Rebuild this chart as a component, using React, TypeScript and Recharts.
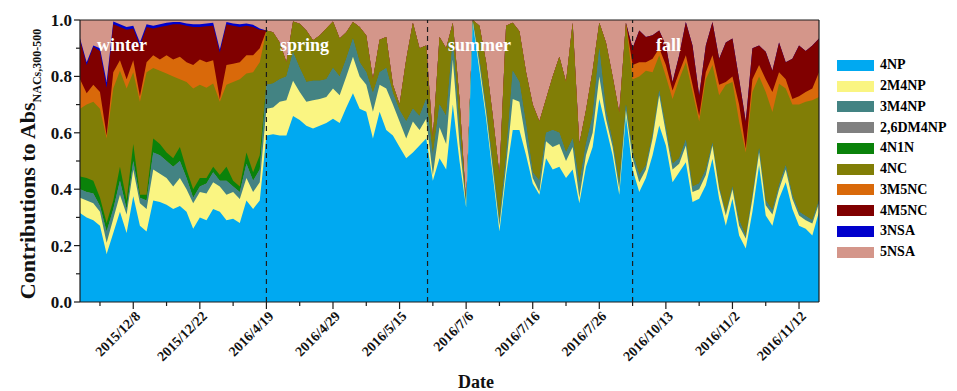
import { Area, AreaChart, ReferenceLine, XAxis, YAxis } from 'recharts'

// Upper edge of each band (cumulative contribution), one value per sample.
// Samples are numbered 2..113 along the x axis: winter 2-29, spring 30-54, summer 55-84, fall 85-113.
const top4NP = [
  0.316, 0.3, 0.29, 0.27, 0.17, 0.245, 0.32, 0.245, 0.375, 0.27, 0.25, 0.36, 0.355, 0.345, 0.33, 0.34, 0.32, 0.26, 0.3, 0.29, 0.33, 0.32, 0.29, 0.295, 0.28, 0.36, 0.33, 0.36,
  0.59, 0.595, 0.59, 0.59, 0.66, 0.645, 0.625, 0.615, 0.625, 0.635, 0.65, 0.635, 0.69, 0.74, 0.685, 0.675, 0.58, 0.675, 0.61, 0.59, 0.55, 0.51, 0.53, 0.555, 0.58,
  0.43, 0.51, 0.47, 0.7, 0.5, 0.335, 0.99, 0.82, 0.65, 0.45, 0.25, 0.45, 0.61, 0.61, 0.52, 0.42, 0.38, 0.51, 0.47, 0.48, 0.44, 0.47, 0.35, 0.48, 0.55, 0.72, 0.62, 0.52, 0.38, 0.66,
  0.47, 0.39, 0.44, 0.52, 0.626, 0.555, 0.425, 0.46, 0.496, 0.355, 0.366, 0.414, 0.508, 0.366, 0.27, 0.366, 0.236, 0.19, 0.32, 0.485, 0.307, 0.27, 0.366, 0.425, 0.33, 0.27, 0.26, 0.236, 0.32,
]
const top2M4NP = [
  0.37, 0.36, 0.35, 0.32, 0.21, 0.295, 0.38, 0.31, 0.47, 0.35, 0.33, 0.47, 0.455, 0.44, 0.41, 0.44, 0.4, 0.35, 0.39, 0.385, 0.425, 0.41, 0.38, 0.39, 0.365, 0.44, 0.39, 0.425,
  0.685, 0.69, 0.71, 0.715, 0.785, 0.745, 0.71, 0.715, 0.72, 0.727, 0.757, 0.733, 0.8, 0.87, 0.8, 0.77, 0.675, 0.77, 0.757, 0.7, 0.64, 0.58, 0.64, 0.61, 0.65,
  0.45, 0.62, 0.56, 0.86, 0.56, 0.34, 0.995, 0.84, 0.67, 0.47, 0.27, 0.48, 0.72, 0.71, 0.57, 0.44, 0.39, 0.57, 0.55, 0.56, 0.5, 0.55, 0.37, 0.52, 0.6, 0.8, 0.65, 0.55, 0.4, 0.68,
  0.51, 0.425, 0.47, 0.58, 0.733, 0.6, 0.47, 0.49, 0.555, 0.39, 0.4, 0.45, 0.555, 0.4, 0.307, 0.4, 0.27, 0.225, 0.366, 0.53, 0.343, 0.31, 0.4, 0.47, 0.366, 0.307, 0.29, 0.278, 0.35,
]
const top3M4NP = [
  0.4, 0.39, 0.385, 0.34, 0.25, 0.33, 0.43, 0.33, 0.5, 0.37, 0.36, 0.53, 0.52, 0.5, 0.48, 0.5, 0.44, 0.37, 0.41, 0.42, 0.46, 0.43, 0.43, 0.41, 0.39, 0.49, 0.43, 0.47,
  0.77, 0.775, 0.79, 0.8, 0.886, 0.83, 0.78, 0.785, 0.785, 0.79, 0.83, 0.8, 0.863, 0.934, 0.85, 0.815, 0.74, 0.815, 0.83, 0.74, 0.68, 0.64, 0.685, 0.66, 0.72,
  0.52, 0.7, 0.66, 0.93, 0.62, 0.34, 0.997, 0.86, 0.69, 0.49, 0.29, 0.52, 0.82, 0.78, 0.63, 0.46, 0.43, 0.6, 0.61, 0.6, 0.53, 0.58, 0.42, 0.56, 0.66, 0.9, 0.68, 0.57, 0.42, 0.7,
  0.53, 0.45, 0.485, 0.595, 0.75, 0.62, 0.49, 0.51, 0.575, 0.41, 0.42, 0.47, 0.565, 0.41, 0.317, 0.41, 0.29, 0.235, 0.38, 0.545, 0.36, 0.325, 0.415, 0.485, 0.38, 0.32, 0.305, 0.29, 0.36,
]
// 2,6DM4NP is too thin to be seen anywhere
const top26DM4NP = top3M4NP
const top4N1N = [
  0.445, 0.44, 0.43, 0.37, 0.28, 0.36, 0.48, 0.36, 0.56, 0.38, 0.38, 0.58, 0.56, 0.53, 0.51, 0.55, 0.47, 0.4, 0.44, 0.44, 0.48, 0.45, 0.48, 0.43, 0.41, 0.53, 0.46, 0.52,
  0.77, 0.775, 0.79, 0.8, 0.886, 0.83, 0.78, 0.785, 0.785, 0.79, 0.83, 0.8, 0.863, 0.934, 0.85, 0.815, 0.74, 0.815, 0.83, 0.74, 0.68, 0.64, 0.685, 0.66, 0.72,
  0.52, 0.7, 0.66, 0.93, 0.62, 0.34, 0.997, 0.86, 0.69, 0.49, 0.29, 0.52, 0.82, 0.78, 0.63, 0.46, 0.43, 0.6, 0.61, 0.6, 0.53, 0.58, 0.42, 0.56, 0.66, 0.9, 0.68, 0.57, 0.42, 0.7,
  0.53, 0.45, 0.485, 0.595, 0.75, 0.62, 0.49, 0.51, 0.575, 0.41, 0.42, 0.47, 0.565, 0.41, 0.317, 0.41, 0.29, 0.235, 0.38, 0.545, 0.36, 0.325, 0.415, 0.485, 0.38, 0.32, 0.305, 0.29, 0.36,
]
const top4NC = [
  0.685, 0.7, 0.71, 0.685, 0.58, 0.757, 0.82, 0.757, 0.815, 0.71, 0.815, 0.83, 0.82, 0.81, 0.8, 0.79, 0.78, 0.757, 0.77, 0.76, 0.775, 0.71, 0.77, 0.78, 0.79, 0.81, 0.815, 0.85,
  0.963, 0.957, 0.92, 0.85, 0.995, 0.987, 0.963, 0.928, 0.945, 0.97, 0.995, 0.934, 0.957, 0.993, 0.975, 0.945, 0.79, 0.93, 0.94, 0.77, 0.7, 0.86, 0.99, 0.9, 0.91,
  0.58, 0.94, 0.9, 0.99, 0.72, 0.345, 1, 0.98, 0.85, 0.66, 0.45, 0.98, 0.99, 0.96, 0.815, 0.7, 0.64, 0.72, 0.8, 0.87, 0.78, 0.99, 0.56, 0.68, 0.82, 0.99, 0.92, 0.8, 0.67, 0.99,
  0.79, 0.8, 0.82, 0.815, 0.875, 0.8, 0.72, 0.79, 0.85, 0.745, 0.64, 0.79, 0.84, 0.733, 0.77, 0.78, 0.64, 0.53, 0.745, 0.8, 0.745, 0.674, 0.774, 0.757, 0.7, 0.7, 0.71, 0.715, 0.727,
]
const top3M5NC = [
  0.79, 0.74, 0.77, 0.745, 0.59, 0.815, 0.857, 0.79, 0.857, 0.73, 0.85, 0.875, 0.86, 0.875, 0.86, 0.87, 0.85, 0.84, 0.86, 0.85, 0.857, 0.72, 0.84, 0.845, 0.85, 0.875, 0.875, 0.9,
  0.963, 0.957, 0.92, 0.85, 0.995, 0.987, 0.963, 0.928, 0.945, 0.97, 0.995, 0.934, 0.957, 0.993, 0.975, 0.945, 0.79, 0.93, 0.94, 0.77, 0.7, 0.86, 0.99, 0.9, 0.91,
  0.58, 0.94, 0.9, 0.99, 0.72, 0.345, 1, 0.98, 0.85, 0.66, 0.45, 0.98, 0.99, 0.96, 0.815, 0.7, 0.64, 0.72, 0.8, 0.87, 0.78, 0.99, 0.56, 0.68, 0.82, 0.99, 0.92, 0.8, 0.67, 0.99,
  0.84, 0.85, 0.85, 0.863, 0.9, 0.84, 0.75, 0.815, 0.875, 0.77, 0.66, 0.815, 0.875, 0.77, 0.78, 0.8, 0.7, 0.544, 0.79, 0.84, 0.79, 0.745, 0.815, 0.79, 0.72, 0.73, 0.745, 0.757, 0.815,
]
const top4M5NC = [
  0.93, 0.84, 0.905, 0.89, 0.76, 0.985, 0.975, 0.965, 0.97, 0.91, 0.975, 0.97, 0.975, 0.98, 0.985, 0.985, 0.98, 0.975, 0.975, 0.978, 0.98, 0.885, 0.985, 0.98, 0.975, 0.98, 0.975, 0.965,
  0.963, 0.957, 0.92, 0.85, 0.995, 0.987, 0.963, 0.928, 0.945, 0.97, 0.995, 0.934, 0.957, 0.993, 0.975, 0.945, 0.79, 0.93, 0.94, 0.77, 0.7, 0.86, 0.99, 0.9, 0.91,
  0.58, 0.94, 0.9, 0.99, 0.72, 0.345, 1, 0.98, 0.85, 0.66, 0.45, 0.98, 0.99, 0.96, 0.815, 0.7, 0.64, 0.72, 0.8, 0.87, 0.78, 0.99, 0.56, 0.68, 0.82, 0.99, 0.92, 0.8, 0.67, 0.99,
  0.9, 0.963, 0.94, 0.946, 0.963, 0.91, 0.78, 0.875, 0.993, 0.91, 0.733, 0.91, 0.993, 0.863, 0.92, 0.934, 0.79, 0.64, 0.9, 0.91, 0.887, 0.82, 0.92, 0.85, 0.863, 0.91, 0.89, 0.91, 0.934,
]
const top3NSA = [
  0.935, 0.85, 0.91, 0.9, 0.78, 0.995, 0.985, 0.975, 0.98, 0.92, 0.985, 0.98, 0.985, 0.99, 0.993, 0.993, 0.988, 0.985, 0.985, 0.988, 0.99, 0.895, 0.993, 0.988, 0.985, 0.988, 0.983, 0.97,
  0.963, 0.957, 0.92, 0.85, 0.995, 0.987, 0.963, 0.928, 0.945, 0.97, 0.995, 0.934, 0.957, 0.993, 0.975, 0.945, 0.79, 0.93, 0.94, 0.77, 0.7, 0.86, 0.99, 0.9, 0.91,
  0.58, 0.94, 0.9, 0.99, 0.72, 0.345, 1, 0.98, 0.85, 0.66, 0.45, 0.98, 0.99, 0.96, 0.815, 0.7, 0.64, 0.72, 0.8, 0.87, 0.78, 0.99, 0.56, 0.68, 0.82, 0.99, 0.92, 0.8, 0.67, 0.99,
  0.9, 0.963, 0.94, 0.946, 0.963, 0.91, 0.78, 0.875, 0.993, 0.91, 0.733, 0.91, 0.993, 0.863, 0.92, 0.934, 0.79, 0.64, 0.9, 0.91, 0.887, 0.82, 0.92, 0.85, 0.863, 0.91, 0.89, 0.91, 0.934,
]
const top5NSA = [
  1, 1, 1, 1, 1, 1, 1, 1, 1, 1, 1, 1, 1, 1, 1, 1, 1, 1, 1, 1, 1, 1, 1, 1, 1, 1, 1, 1,
  1, 1, 1, 1, 1, 1, 1, 1, 1, 1, 1, 1, 1, 1, 1, 1, 1, 1, 1, 1, 1, 1, 1, 1, 1,
  1, 1, 1, 1, 1, 1, 1, 1, 1, 1, 1, 1, 1, 1, 1, 1, 1, 1, 1, 1, 1, 1, 1, 1, 1, 1, 1, 1, 1, 1,
  1, 1, 1, 1, 1, 1, 1, 1, 1, 1, 1, 1, 1, 1, 1, 1, 1, 1, 1, 1, 1, 1, 1, 1, 1, 1, 1, 1, 1,
]

const firstSample = 2
const lastSample = 113

const dateTicks = [10, 20, 30, 40, 50, 60, 70, 80, 90, 100, 110]
const dateLabels = [
  '2015/12/8', '2015/12/22', '2016/4/19', '2016/4/29', '2016/5/15', '2016/7/6',
  '2016/7/16', '2016/7/26', '2016/10/13', '2016/11/2', '2016/11/12',
]
const minorTicks = [5, 15, 25, 35, 45, 55, 65, 75, 85, 95, 105]
const yTicks = [0, 0.1, 0.2, 0.3, 0.4, 0.5, 0.6, 0.7, 0.8, 0.9, 1]

const seasonStarts = [30, 54.2, 85]
const seasons = [
  { name: 'winter', x: 97 },
  { name: 'spring', x: 280 },
  { name: 'summer', x: 448 },
  { name: 'fall', x: 656 },
]

const bands = [
  { key: '4NP', color: '#00a9f1', tops: top4NP },
  { key: '2M4NP', color: '#faf582', tops: top2M4NP },
  { key: '3M4NP', color: '#438383', tops: top3M4NP },
  { key: '2,6DM4NP', color: '#808080', tops: top26DM4NP },
  { key: '4N1N', color: '#0a820a', tops: top4N1N },
  { key: '4NC', color: '#817e06', tops: top4NC },
  { key: '3M5NC', color: '#d9690a', tops: top3M5NC },
  { key: '4M5NC', color: '#800000', tops: top4M5NC },
  { key: '3NSA', color: '#0000cc', tops: top3NSA },
  { key: '5NSA', color: '#d4968a', tops: top5NSA },
]

const rows = top4NP.map((_, k) => {
  const row: Record<string, number> = { sample: firstSample + k }
  bands.forEach((b) => {
    row[b.key] = b.tops[k]
  })
  return row
})

const serif = '"Liberation Serif", "Times New Roman", serif'
const ink = '#1c1c1c'

function DateTick(props: any) {
  const { x, y, payload } = props
  const pos = dateTicks.indexOf(payload.value)
  const major = pos >= 0
  const ax = x + 8
  const ay = y + 15
  return (
    <g>
      <line x1={x} x2={x} y1={y} y2={y + (major ? 7 : 4)} stroke={ink} strokeWidth={1.2} />
      {major && (
        <text
          x={ax}
          y={ay}
          transform={`rotate(-45 ${ax} ${ay})`}
          textAnchor="end"
          fontFamily={serif}
          fontWeight="bold"
          fontSize={14}
          fill="#111"
        >
          {dateLabels[pos]}
        </text>
      )}
    </g>
  )
}

function ShareTick(props: any) {
  const { x, y, payload } = props
  const v = payload.value as number
  const major = Math.round(v * 10) % 2 === 0
  return (
    <g>
      <line x1={x} x2={x - (major ? 6 : 4)} y1={y} y2={y} stroke={ink} strokeWidth={1.2} />
      {major && (
        <text x={x - 8} y={y} dy="0.35em" textAnchor="end" fontFamily={serif} fontWeight="bold" fontSize={17} fill="#111">
          {v.toFixed(1)}
        </text>
      )}
    </g>
  )
}

export default function App() {
  const xTicks = [...minorTicks, ...dateTicks].sort((a, b) => a - b)
  return (
    <div style={{ position: 'absolute', left: 0, top: 0, width: 957, height: 391, background: '#fff' }}>
      <AreaChart width={957} height={391} data={rows} margin={{ top: 20, right: 138, bottom: 0, left: 0 }}>
        <XAxis
          type="number"
          dataKey="sample"
          domain={[firstSample, lastSample]}
          ticks={xTicks}
          interval={0}
          height={89}
          tickSize={0}
          tickMargin={0}
          tickLine={false}
          axisLine={{ stroke: ink, strokeWidth: 1.2 }}
          tick={DateTick}
        />
        <YAxis
          type="number"
          domain={[0, 1]}
          ticks={yTicks}
          interval={0}
          width={80}
          tickSize={0}
          tickMargin={0}
          tickLine={false}
          axisLine={{ stroke: ink, strokeWidth: 1.2 }}
          tick={ShareTick}
        />
        {[...bands].reverse().map((b) => (
          <Area
            key={b.key}
            type="linear"
            dataKey={b.key}
            name={b.key}
            stroke="none"
            fill={b.color}
            fillOpacity={1}
            baseValue={0}
            dot={false}
            activeDot={false}
            isAnimationActive={false}
          />
        ))}
        {seasonStarts.map((s) => (
          <ReferenceLine key={s} x={s} stroke={ink} strokeWidth={1.2} strokeDasharray="5 4" />
        ))}
        <ReferenceLine y={1} stroke={ink} strokeWidth={1.2} />
        <ReferenceLine x={lastSample} stroke={ink} strokeWidth={1.2} />
      </AreaChart>

      <svg width={957} height={391} style={{ position: 'absolute', left: 0, top: 0, pointerEvents: 'none' }}>
        {seasons.map((s) => (
          <text key={s.name} x={s.x} y={51} fontFamily={serif} fontWeight="bold" fontSize={18} fill="#fff">
            {s.name}
          </text>
        ))}
        <text
          transform="translate(35 164) rotate(-90)"
          textAnchor="middle"
          fontFamily={serif}
          fontWeight="bold"
          fontSize={22}
          fill="#111"
        >
          Contributions to Abs
          <tspan fontSize={12} dy={6}>
            NACs,300-500
          </tspan>
        </text>
        <text x={476} y={388} textAnchor="middle" fontFamily={serif} fontWeight="bold" fontSize={18} fill="#111">
          Date
        </text>
      </svg>

      <div style={{ position: 'absolute', left: 837, top: 55, fontFamily: serif, fontWeight: 'bold', fontSize: 14 }}>
        {bands.map((b) => (
          <div key={b.key} style={{ height: 20.75, display: 'flex', alignItems: 'center' }}>
            <span style={{ width: 37, height: 11, background: b.color, display: 'inline-block', marginRight: 6 }} />
            <span>{b.key}</span>
          </div>
        ))}
      </div>
    </div>
  )
}
